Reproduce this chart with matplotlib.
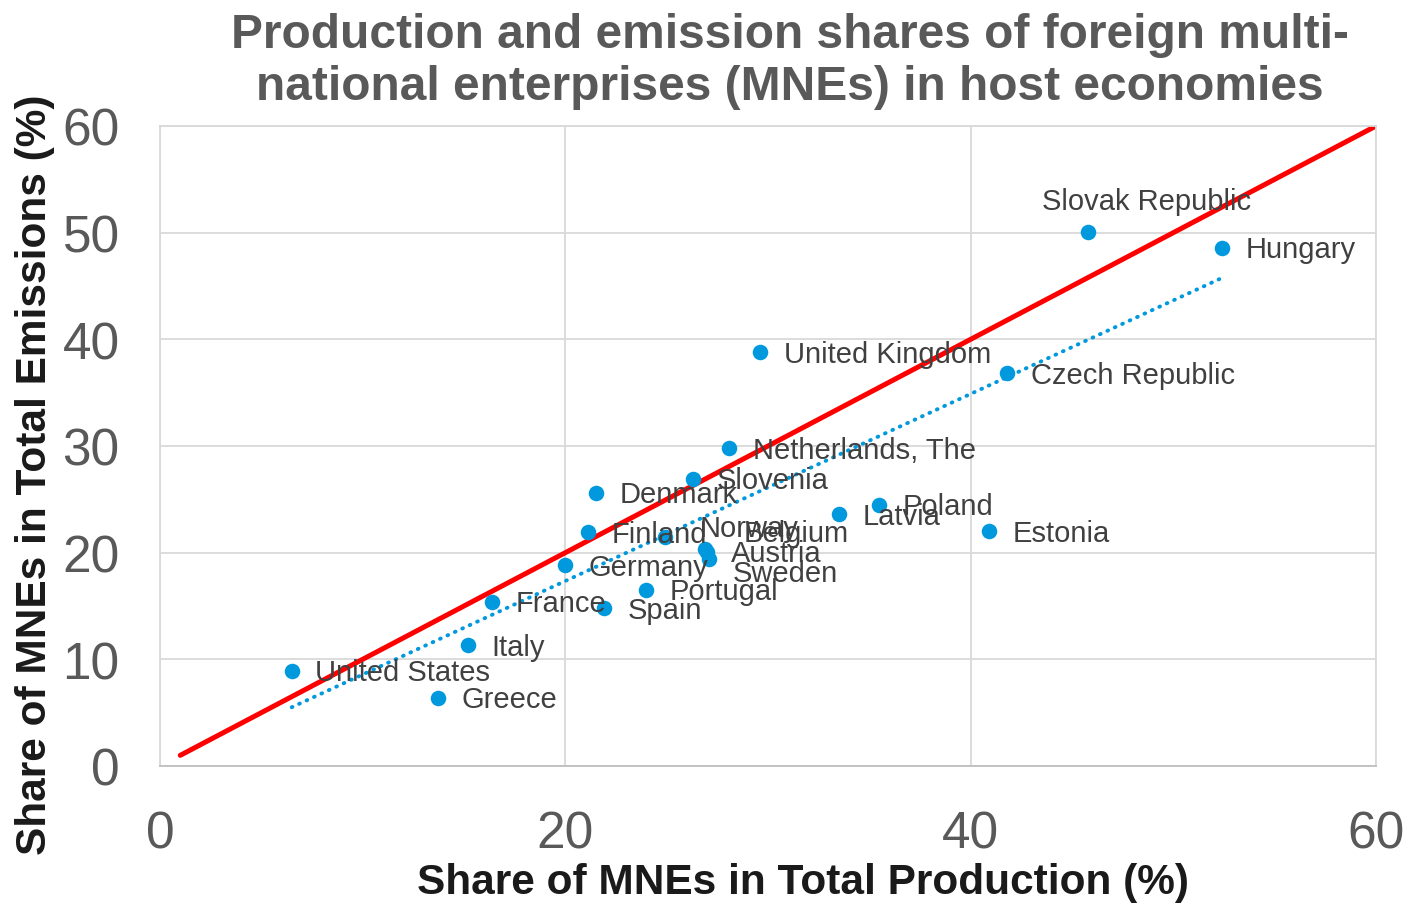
import matplotlib.pyplot as plt
import numpy as np

# Share of foreign MNEs in total production / total emissions (%)
countries = ['Slovak Republic', 'Hungary', 'United Kingdom', 'Czech Republic',
             'Netherlands, The', 'Slovenia', 'Denmark', 'Poland', 'Latvia',
             'Estonia', 'Finland', 'Norway', 'Belgium', 'Austria', 'Sweden',
             'Germany', 'Portugal', 'France', 'Spain', 'Italy',
             'United States', 'Greece']
production = [45.8, 52.4, 29.6, 41.8, 28.1, 26.3, 21.5, 35.5, 33.5, 40.9,
              21.1, 24.9, 26.9, 27.0, 27.1, 20.0, 24.0, 16.4, 21.9, 15.2,
              6.5, 13.7]
emissions = [50.1, 48.6, 38.8, 36.8, 29.8, 26.9, 25.6, 24.5, 23.6, 22.0,
             21.9, 21.5, 20.3, 20.1, 19.4, 18.8, 16.5, 15.4, 14.8, 11.3,
             8.9, 6.4]
# 45-degree reference line
diag = [1, 60]

# label offsets in points (most labels sit to the right of the dot)
label_offsets = {'Slovak Republic': (-33, 22), 'Norway': (25, 6),
                 'Belgium': (28, 12), 'Sweden': (17, -10)}

plt.rcParams['font.family'] = ['Liberation Sans', 'DejaVu Sans']

fig = plt.figure(figsize=(14.09, 9.04), dpi=100)
ax = fig.add_axes([160 / 1409, 1 - 767 / 904, 1216 / 1409, 640 / 904])

ax.grid(True, color='#D9D9D9', linewidth=1.3, zorder=0)
for s in ax.spines.values():
    s.set_color('#D9D9D9')
    s.set_linewidth(1.3)
ax.spines['bottom'].set_color('#BFBFBF')

ax.plot(diag, diag, color='#FF0000', linewidth=3.6, solid_capstyle='round', zorder=2)

# linear trendline through the points
coef = np.polyfit(production, emissions, 1)
tx = np.array([min(production), max(production)])
ax.plot(tx, np.polyval(coef, tx), color='#0099DD', linewidth=2.8,
        linestyle=(0, (0.2, 1.9)), dash_capstyle='round', zorder=2)

ax.scatter(production, emissions, s=125, color='#0099DD', zorder=3, linewidths=0)

for name, x, y in zip(countries, production, emissions):
    dx, dy = label_offsets.get(name, (17, -1))
    ax.annotate(name, (x, y), xytext=(dx, dy), textcoords='offset points',
                ha='left', va='center', fontsize=21, color='#404040', zorder=4)

ax.set_xlim(0, 60)
ax.set_ylim(0, 60)
ax.set_xticks([0, 20, 40, 60])
ax.set_yticks(range(0, 61, 10))
ax.tick_params(length=0, labelsize=37, labelcolor='#595959')
ax.tick_params(axis='x', pad=31)
ax.tick_params(axis='y', pad=29)

ax.set_xlabel('Share of MNEs in Total Production (%)', fontsize=30.5,
              fontweight='bold', color='#1A1A1A')
ax.set_ylabel('Share of MNEs in Total Emissions (%)', fontsize=30.5,
              fontweight='bold', color='#1A1A1A')
ax.xaxis.label.set_va('center')
ax.yaxis.label.set_va('center')
ax.xaxis.set_label_coords(0.529, -0.181)
ax.yaxis.set_label_coords(-0.103, 0.456)

fig.text(790 / 1409, 1 - 61 / 904,
         'Production and emission shares of foreign multi-\n'
         'national enterprises (MNEs) in host economies',
         ha='center', va='center', fontsize=34.5, fontweight='bold',
         color='#595959', linespacing=1.2)

fig.savefig('out.png', dpi=100)
